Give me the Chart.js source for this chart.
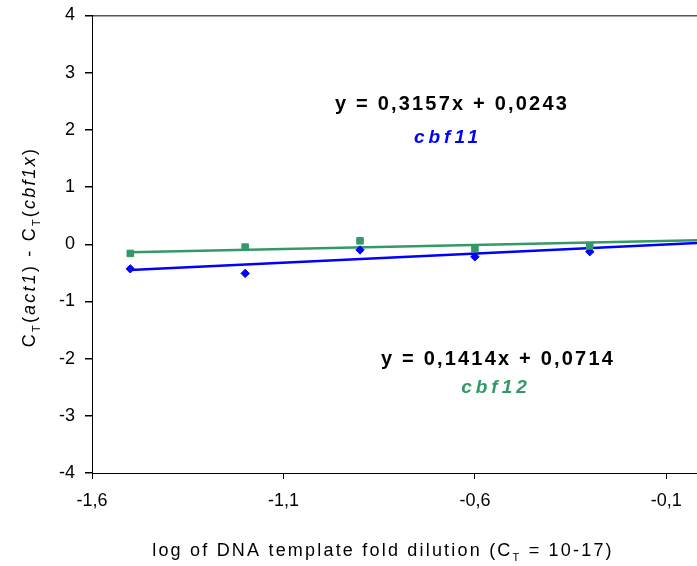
<!DOCTYPE html>
<html>
<head>
<meta charset="utf-8">
<script src="https://cdn.jsdelivr.net/npm/chart.js@4.4.1/dist/chart.umd.min.js"></script>
<style>
  body { margin: 0; background: #fff; }
  #wrap { width: 697px; height: 566px; }
</style>
</head>
<body>
<div id="wrap"><canvas id="myChart" width="697" height="566"></canvas></div>
<script>
'use strict';
// values
var dilution = [-1.5, -1.2, -0.9, -0.6, -0.3];   // log of fold dilution
var cbf11 = [-0.43, -0.51, -0.10, -0.22, -0.13];
var cbf12 = [-0.16, -0.05, 0.06, -0.08, -0.03];
var trendX = [-1.5, -0.02];                       // trendline ends
var cbf11Trend = [-0.45, 0.02];
var cbf12Trend = [-0.14, 0.07];
var xTicks = [-1.6, -1.1, -0.6, -0.1];
var equations = ['y = 0,3157x + 0,0243', 'y = 0,1414x + 0,0714'];
var geneNames = ['cbf11', 'cbf12'];

var BLUE = '#0000ff';
var GREEN = '#339966';
var FONT = '"Liberation Sans", Arial, sans-serif';

function toPoints(xs, ys) {
  return xs.map(function(x, i) { return {x: x, y: ys[i]}; });
}

// draw a row of text pieces (for subscripts / italics)
function drawRuns(ctx, runs, x, y, center) {
  var total = 0;
  runs.forEach(function(r) {
    ctx.font = r.font;
    total += ctx.measureText(r.text).width;
  });
  var cx = center ? x - total / 2 : x;
  runs.forEach(function(r) {
    ctx.font = r.font;
    ctx.fillText(r.text, cx, y + (r.dy || 0));
    cx += ctx.measureText(r.text).width;
  });
}

var textPlugin = {
  id: 'texts',
  afterDraw: function(chart) {
    var ctx = chart.ctx;
    var n = '18px ' + FONT;
    var it = 'italic 18px ' + FONT;
    var sub = '11px ' + FONT;
    ctx.save();
    ctx.fillStyle = '#000';
    ctx.textBaseline = 'alphabetic';
    ctx.textAlign = 'left';
    ctx.letterSpacing = '2.2px';

    // x title
    drawRuns(ctx, [
      {text: 'log of DNA template fold dilution (C', font: n},
      {text: 'T', font: sub, dy: 5},
      {text: ' = 10-17)', font: n}
    ], 383, 556, true);

    // y title, rotated
    ctx.save();
    ctx.translate(35, 247);
    ctx.rotate(-Math.PI / 2);
    drawRuns(ctx, [
      {text: 'C', font: n},
      {text: 'T', font: sub, dy: 5},
      {text: '(', font: n},
      {text: 'act1', font: it},
      {text: ') - C', font: n},
      {text: 'T', font: sub, dy: 5},
      {text: '(', font: n},
      {text: 'cbf1x', font: it},
      {text: ')', font: n}
    ], 0, 0, true);
    ctx.restore();

    // trendline equations
    ctx.textAlign = 'center';
    ctx.letterSpacing = '2.2px';
    ctx.font = 'bold 20px ' + FONT;
    ctx.fillStyle = '#000';
    ctx.fillText(equations[0], 452, 110);
    ctx.fillText(equations[1], 498, 365);
    ctx.letterSpacing = '4px';
    ctx.font = 'italic bold 19px ' + FONT;
    ctx.fillStyle = BLUE;
    ctx.fillText(geneNames[0], 448, 143);
    ctx.fillStyle = GREEN;
    ctx.fillText(geneNames[1], 496, 393);
    ctx.restore();
  }
};

var ctx = document.getElementById('myChart').getContext('2d');
new Chart(ctx, {
  type: 'scatter',
  data: {
    datasets: [
      {
        label: geneNames[1],
        data: toPoints(dilution, cbf12),
        pointStyle: 'rect',
        pointRadius: 4.6,
        backgroundColor: GREEN,
        borderColor: GREEN,
        borderWidth: 1,
        showLine: false
      },
      {
        label: geneNames[0],
        data: toPoints(dilution, cbf11),
        pointStyle: 'rectRot',
        pointRadius: 4.2,
        backgroundColor: BLUE,
        borderColor: BLUE,
        borderWidth: 1,
        showLine: false
      },
      {
        label: 'cbf12 trend',
        data: toPoints(trendX, cbf12Trend),
        showLine: true,
        pointRadius: 0,
        borderColor: GREEN,
        borderWidth: 2.5
      },
      {
        label: 'cbf11 trend',
        data: toPoints(trendX, cbf11Trend),
        showLine: true,
        pointRadius: 0,
        borderColor: BLUE,
        borderWidth: 2.5
      }
    ]
  },
  options: {
    responsive: false,
    animation: false,
    layout: { autoPadding: false, padding: { top: 15.5, right: 0, left: 0, bottom: 0 } },
    plugins: { legend: { display: false }, tooltip: { enabled: false } },
    scales: {
      x: {
        type: 'linear',
        min: -1.6,
        max: -0.02,
        afterBuildTicks: function(scale) {
          scale.ticks = xTicks.map(function(v) { return {value: v}; });
        },
        afterFit: function(scale) {
          scale.height = 93;
          scale.paddingLeft = 0;
          scale.paddingRight = 0;
        },
        ticks: {
          callback: function(v) { return v.toFixed(1).replace('.', ','); },
          font: { family: FONT, size: 18 },
          color: '#000',
          padding: 11,
          maxRotation: 0,
          autoSkip: false
        },
        grid: { drawOnChartArea: false, tickLength: 6, tickColor: '#000' },
        border: { color: '#000', width: 1 }
      },
      y: {
        min: -4,
        max: 4,
        afterFit: function(scale) {
          scale.width = 92;
          scale.paddingTop = 0;
          scale.paddingBottom = 0;
        },
        ticks: {
          stepSize: 1,
          callback: function(v) { return String(v); },
          font: { family: FONT, size: 18 },
          color: '#000',
          padding: 10
        },
        grid: {
          drawOnChartArea: true,
          tickLength: 7,
          tickColor: '#000',
          color: function(c) { return c.tick && c.tick.value === 4 ? '#555' : 'rgba(0,0,0,0)'; },
          lineWidth: 1.5
        },
        border: { color: '#000', width: 1 }
      }
    }
  },
  plugins: [textPlugin]
});
</script>
</body>
</html>
